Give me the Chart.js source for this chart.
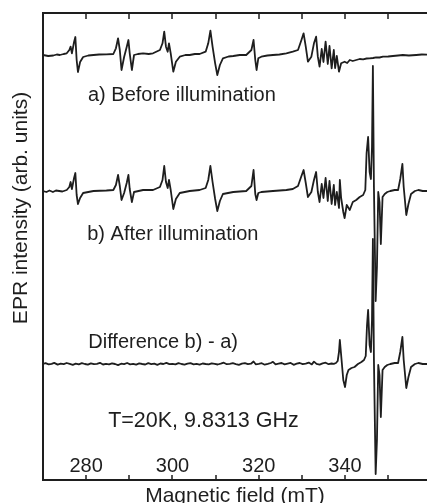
<!DOCTYPE html>
<html>
<head>
<meta charset="utf-8">
<script src="https://cdn.jsdelivr.net/npm/chart.js@4.4.1/dist/chart.umd.min.js"></script>
<style>
  html, body { margin: 0; padding: 0; background: #fff; }
  #epr { display: block; }
</style>
</head>
<body>
<canvas id="epr" width="427" height="503"></canvas>
<script>
// spectra: [field (mT), intensity (arb. units, offset per trace)]
const beforeIllum = [
  [270.0, 425], [271.2, 424], [272.4, 424.5], [273.2, 425.5], [273.9, 425], [274.8, 426], [275.5, 426.7],
  [276.1, 430], [276.4, 433.3], [276.7, 426.7], [277.2, 438], [277.5, 443], [277.8, 420], [278.1, 408],
  [278.6, 418], [279.3, 423], [280.5, 424.5], [281.7, 425], [283.0, 425.5], [284.7, 425.7], [286.3, 426],
  [286.9, 431.7], [287.4, 441.7], [287.8, 430], [288.2, 410], [288.8, 423], [289.4, 433], [289.8, 440],
  [290.1, 426.7], [290.6, 410], [291.1, 425], [292.0, 426], [293.2, 426.7], [294.5, 426], [295.5, 426.7],
  [297.1, 430], [297.7, 436.7], [298.1, 448.3], [298.5, 433.3], [298.9, 428.3], [299.2, 436.7], [299.6, 426.7],
  [300.2, 408.3], [300.8, 418.3], [301.7, 423.3], [303.0, 425], [304.0, 425], [305.2, 426], [306.3, 426],
  [307.7, 428.3], [308.3, 436.7], [308.8, 449.3], [309.3, 433.3], [309.9, 416.7], [310.4, 405], [311.0, 415],
  [311.7, 421.7], [313.0, 423.5], [314.1, 424], [315.6, 425], [317.1, 425], [318.3, 430], [318.8, 440],
  [319.2, 420], [319.5, 410], [319.9, 421.7], [320.6, 423.3], [322.0, 424.5], [323.3, 425], [324.8, 425.5],
  [326.4, 426.7], [327.9, 428.3], [329.1, 430], [329.9, 440], [330.4, 446.7], [330.9, 433.3], [331.4, 418.3],
  [332.2, 423.3], [332.8, 436.7], [333.3, 443.3], [333.7, 423.3], [334.1, 413.3], [334.6, 431], [335.0, 418],
  [335.5, 438.3], [336.0, 416], [336.4, 434], [336.9, 411.7], [337.4, 430], [337.7, 412], [338.1, 424],
  [338.6, 408.3], [339.1, 416.7], [339.9, 418.3], [340.5, 417], [341.1, 420], [341.8, 419], [342.6, 420],
  [343.4, 421], [344.2, 420.7], [345.0, 421.5], [345.7, 421.7], [346.5, 422], [347.2, 422.7], [348.0, 422.5],
  [348.8, 423.3], [350.0, 423.5], [351.1, 424], [352.3, 424.5], [353.4, 425], [354.8, 424.5], [356.5, 425],
  [357.8, 425.5], [359.0, 425.3]
];

const afterIllum = [
  [270.0, 289], [270.8, 288], [271.5, 289.5], [272.3, 288], [273.0, 289.5], [274.5, 288.5], [275.5, 290],
  [276.1, 293], [276.4, 298], [276.7, 291], [277.2, 302], [277.5, 307], [277.8, 285], [278.1, 276],
  [278.6, 282], [279.3, 287], [281.7, 289], [284.7, 289.5], [286.3, 290], [286.9, 295], [287.4, 305],
  [287.8, 294], [288.2, 280], [288.8, 287], [289.4, 297], [289.8, 305], [290.1, 291], [290.6, 278],
  [291.1, 288], [293.2, 290], [295.5, 290], [297.1, 293], [297.7, 300], [298.1, 314], [298.5, 298],
  [298.9, 292], [299.2, 300], [299.6, 290], [300.2, 271], [300.8, 281], [301.7, 287], [304.0, 289],
  [306.3, 290], [307.7, 292], [308.3, 300], [308.8, 314], [309.3, 298], [309.9, 281], [310.4, 269],
  [311.0, 279], [311.7, 286], [314.1, 288], [317.1, 289], [318.3, 294], [318.8, 310], [319.2, 286],
  [319.5, 280], [319.9, 287], [320.6, 288], [323.3, 289], [326.4, 290], [327.9, 291], [329.1, 294],
  [329.9, 304], [330.4, 310], [330.9, 297], [331.4, 283], [332.2, 288], [332.8, 300], [333.3, 308],
  [333.7, 288], [334.1, 278], [334.6, 296], [335.0, 282], [335.5, 302], [336.0, 279], [336.4, 299],
  [336.9, 276], [337.4, 295], [337.7, 275], [338.1, 288], [338.6, 272], [338.8, 300], [339.1, 282],
  [339.6, 268], [339.9, 262], [340.4, 275], [341.1, 270], [341.8, 278], [342.6, 280], [343.4, 283],
  [344.2, 285], [344.7, 290], [345.0, 327], [345.35, 343], [345.7, 308], [346.0, 301], [346.25, 333],
  [346.46, 414], [346.7, 293], [347.1, 179], [347.4, 213], [347.7, 288], [348.0, 278], [348.3, 236],
  [348.7, 283], [349.2, 286], [349.8, 288], [350.5, 289], [351.5, 290], [352.3, 290], [352.8, 301],
  [353.3, 316], [353.6, 293], [354.2, 265], [354.7, 276], [355.3, 286], [356.2, 289], [357.0, 290],
  [358.0, 289], [359.0, 289]
];

const difference = [
  [270.0, 116], [270.6, 116.8], [271.3, 115.6], [272.0, 116.2], [272.6, 117.1], [273.4, 115.4], [274.1, 116.3],
  [274.8, 115.8], [275.5, 117.0], [276.2, 116.1], [276.9, 115.2], [277.6, 116.4], [278.3, 115.7], [279.0, 116.9],
  [279.7, 116.0], [280.4, 115.3], [281.1, 116.6], [281.8, 115.9], [282.5, 116.2], [283.2, 117.2], [283.9, 115.5],
  [284.6, 116.1], [285.3, 115.6], [286.0, 116.7], [286.7, 116.0], [287.4, 114.9], [288.1, 116.3], [288.8, 115.8],
  [289.5, 117.0], [290.2, 115.7], [290.9, 116.2], [291.6, 115.4], [292.3, 116.6], [293.0, 116.0], [293.7, 115.5],
  [294.4, 116.8], [295.1, 115.9], [295.8, 116.3], [296.5, 115.2], [297.2, 116.5], [297.9, 116.0], [298.6, 117.1],
  [299.3, 115.8], [300.0, 116.2], [300.7, 115.6], [301.4, 116.9], [302.1, 116.0], [302.8, 115.4], [303.5, 116.4],
  [304.2, 116.9], [304.9, 115.7], [305.6, 116.1], [306.3, 115.3], [307.0, 116.5], [307.7, 116.0], [308.4, 115.6],
  [309.1, 116.7], [309.8, 116.1], [310.5, 115.5], [311.2, 116.3], [311.9, 117.3], [312.6, 115.8], [313.3, 116.2],
  [314.0, 116.8], [314.7, 115.9], [315.4, 115.2], [316.1, 116.4], [316.8, 116.9], [317.5, 115.8], [318.2, 116.3],
  [318.8, 118.5], [319.3, 115.7], [320.0, 116.2], [320.7, 116.8], [321.4, 115.3], [322.1, 116.1], [322.8, 117.0],
  [323.3, 118.2], [323.9, 115.6], [324.6, 116.3], [325.3, 117.0], [326.0, 115.6], [326.7, 116.4], [327.4, 117.1],
  [328.1, 115.2], [328.8, 116.3], [329.5, 117.0], [330.2, 115.8], [330.9, 116.4], [331.6, 117.4], [332.3, 115.6],
  [332.8, 118.4], [333.4, 116.1], [334.1, 115.4], [334.8, 116.7], [335.5, 117.3], [336.2, 115.8], [336.9, 116.5],
  [337.4, 116.2], [337.9, 117], [338.3, 119], [338.6, 128], [338.8, 140], [339.1, 125], [339.6, 100],
  [340.0, 93], [340.4, 105], [340.8, 110], [341.5, 112], [342.2, 113], [343.0, 116], [343.8, 118],
  [344.4, 120], [344.8, 124], [345.1, 155], [345.35, 170], [345.7, 135], [346.0, 128], [346.25, 160],
  [346.46, 241], [346.7, 120], [347.1, 6], [347.4, 40], [347.7, 115], [348.0, 105], [348.3, 63],
  [348.7, 110], [349.2, 113], [349.8, 115], [350.5, 116], [351.5, 117], [352.3, 117], [352.8, 128],
  [353.3, 143], [353.6, 120], [354.2, 92], [354.7, 103], [355.3, 113], [356.2, 116], [357.0, 117],
  [358.0, 116], [359.0, 116]
];

const labeledTicks = [280, 300, 320, 340];
const plainTicks = [290, 310, 330, 350];

const notes = [
  { text: "a) Before illumination", x: 280.42, y: 379, size: 20 },
  { text: "b) After illumination", x: 280.25, y: 240, size: 20 },
  { text: "Difference b) - a)", x: 280.49, y: 131.7, size: 20 },
  { text: "T=20K, 9.8313 GHz", x: 285.1, y: 52.7, size: 21.5 }
];

const FONT = "'Liberation Sans', Arial, Helvetica, sans-serif";
const INK = "#1e1e1e";

// 축, 눈금, 글씨는 직접 그림
const frame = {
  id: "frame",
  afterDraw(chart) {
    const { ctx, chartArea: a } = chart;
    const x = chart.scales.x;
    const y = chart.scales.y;
    ctx.save();
    ctx.strokeStyle = INK;
    ctx.lineWidth = 2;
    ctx.beginPath();
    ctx.moveTo(a.right + 2, a.top);
    ctx.lineTo(a.left, a.top);
    ctx.lineTo(a.left, a.bottom);
    ctx.lineTo(a.right + 2, a.bottom);
    ctx.stroke();

    ctx.lineWidth = 1.5;
    ctx.beginPath();
    labeledTicks.concat(plainTicks).forEach((v) => {
      const px = Math.round(x.getPixelForValue(v));
      ctx.moveTo(px, a.bottom);
      ctx.lineTo(px, a.bottom - 5);
      ctx.moveTo(px, a.top);
      ctx.lineTo(px, a.top + 6);
    });
    ctx.stroke();

    ctx.fillStyle = INK;
    ctx.textBaseline = "alphabetic";
    ctx.font = "20px " + FONT;
    ctx.textAlign = "center";
    labeledTicks.forEach((v) => {
      ctx.fillText(String(v), x.getPixelForValue(v), a.bottom - 8);
    });

    ctx.textAlign = "left";
    notes.forEach((n) => {
      ctx.font = n.size + "px " + FONT;
      ctx.fillText(n.text, x.getPixelForValue(n.x), y.getPixelForValue(n.y));
    });

    ctx.font = "21px " + FONT;
    ctx.textAlign = "center";
    ctx.fillText("Magnetic field (mT)", (a.left + a.right) / 2, 502);

    ctx.translate(27, 208);
    ctx.rotate(-Math.PI / 2);
    ctx.fillText("EPR intensity (arb. units)", 0, 0);
    ctx.restore();
  }
};

const toPoints = (arr) => arr.map((p) => ({ x: p[0], y: p[1] }));

const ctx = document.getElementById("epr").getContext("2d");
new Chart(ctx, {
  type: "line",
  data: {
    datasets: [
      { label: "a) Before illumination", data: toPoints(beforeIllum) },
      { label: "b) After illumination", data: toPoints(afterIllum) },
      { label: "Difference b) - a)", data: toPoints(difference) }
    ]
  },
  options: {
    responsive: false,
    animation: false,
    devicePixelRatio: 1,
    layout: { padding: { left: 43, top: 13, right: 0, bottom: 23 } },
    elements: {
      point: { radius: 0 },
      line: { borderWidth: 1.8, borderColor: INK, tension: 0, fill: false, borderJoinStyle: "round" }
    },
    scales: {
      x: { type: "linear", min: 270, max: 359, display: false },
      y: { type: "linear", min: 0, max: 467, display: false }
    },
    plugins: {
      legend: { display: false },
      tooltip: { enabled: false }
    }
  },
  plugins: [frame]
});
</script>
</body>
</html>
